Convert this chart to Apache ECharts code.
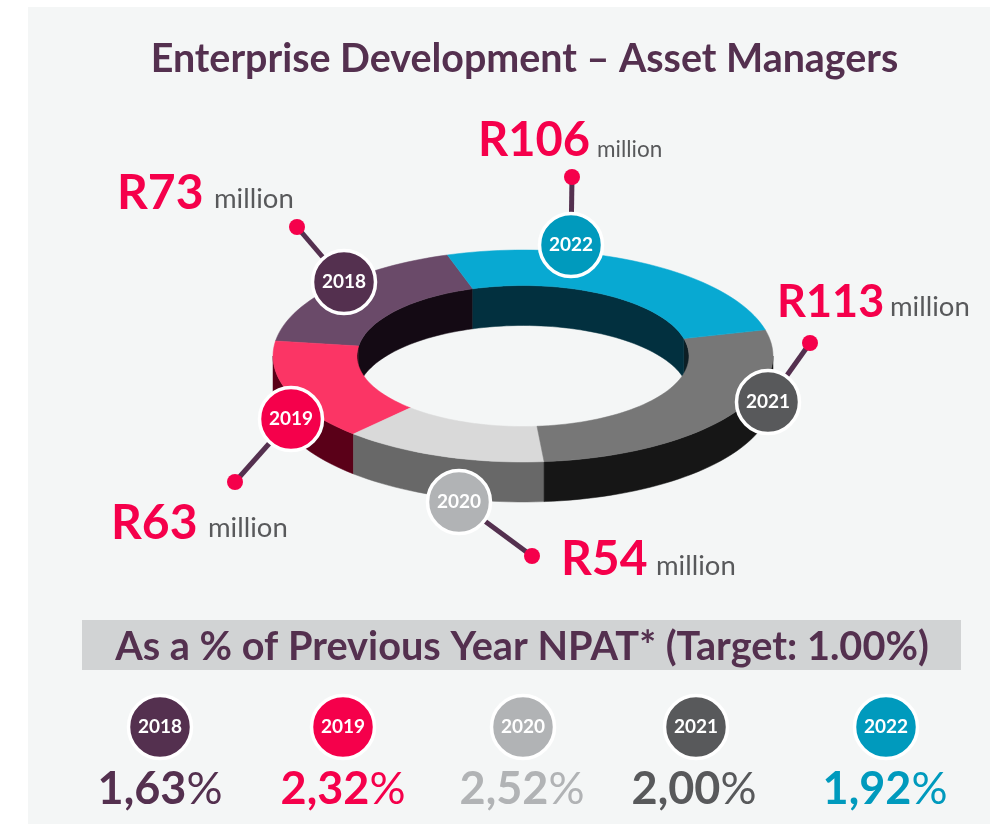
<!DOCTYPE html>
<html><head><meta charset="utf-8">
<style>html,body{margin:0;padding:0;background:#fff}#c{width:990px;height:824px}</style>
<script src="https://cdn.jsdelivr.net/npm/echarts@6/dist/echarts.min.js"></script>
</head><body><div id="c"></div>
<script>
// ---- data ----
const years = ['2018','2019','2020','2021','2022'];
const amounts = [73,63,54,113,106];
const npatPct = ['1,63','2,32','2,52','2,00','1,92'];
// ---- styles per year ----
const badgeColors = ['#54304F','#F5004B','#B1B3B5','#58595B','#009ABD'];
const pctColors   = ['#54304F','#F5004B','#B1B3B5','#58595B','#009ABD'];
const topColors   = ['#6A4A69','#FB3565','#D9D9D9','#777777','#08A9D2'];
const sideColors  = ['#2A1428','#5A0018','#686868','#161616','#04465A'];
const wallColors  = ['#140A14','#2A0010','#444444','#0E1E24','#02303F'];
// ---- layout ----
const ring = {cx:523, cy:356, rx:250, ry:106, irx:166, iry:70.5, depth:40, start:107.6};
const badges = [[344,282],[291,419],[459,502],[768,402],[571,245]];
const dots   = [[297,227],[235,482],[532,556],[810,343],[572,177]];
const amountPos = [[117,209,48],[111,539,48],[561,575,48],[777,316,45],[478,155,47]];
const millionPos = [[214,208,27.5],[208,537,27.5],[656,575,27.5],[890,316,27.5],[597,156,22.5]];
const lowerBadgeX = [160,343,523,696,886];
const pctX = [160,343,522,694,885];

const total = amounts.reduce((a,b)=>a+b,0);
const P = (rx,ry,t,dy)=>{const a=t*Math.PI/180;return [ring.cx+rx*Math.cos(a), ring.cy-ry*Math.sin(a)+(dy||0)];};
function arc(rx,ry,a0,a1,dy){
  const n=Math.max(2,Math.ceil(Math.abs(a1-a0)/2)), o=[];
  for(let i=0;i<=n;i++) o.push(P(rx,ry,a0+(a1-a0)*i/n,dy));
  return o;
}
// visible part of an interval [a0,a1] (increasing) within [lo,hi], modulo 360
function clipAngles(a0,a1,lo,hi){
  const out=[];
  for(const k of [-360,0,360]){
    const s=Math.max(a0,lo+k), e=Math.min(a1,hi+k);
    if(e>s) out.push([s,e]);
  }
  return out;
}
function renderSlice(params,api){
  const i=params.dataIndex;
  let before=0; for(let k=0;k<i;k++) before+=amounts[k];
  const a0=ring.start+before/total*360, a1=a0+api.value(0)/total*360;
  const kids=[];
  // outer side: front half only
  clipAngles(a0,a1,180,360).forEach(([s,e])=>{
    kids.push({type:'polygon',z2:1,shape:{points:arc(ring.rx,ring.ry,s,e,0).concat(arc(ring.rx,ring.ry,e,s,ring.depth))},style:{fill:sideColors[i],stroke:sideColors[i],lineWidth:.5}});
  });
  // inner wall: back half only
  clipAngles(a0,a1,0,180).forEach(([s,e])=>{
    kids.push({type:'polygon',z2:2,shape:{points:arc(ring.irx,ring.iry,s,e,0).concat(arc(ring.irx,ring.iry,e,s,ring.depth))},style:{fill:wallColors[i],stroke:wallColors[i],lineWidth:.5}});
  });
  // top face
  kids.push({type:'polygon',z2:3,shape:{points:arc(ring.rx,ring.ry,a0,a1,0).concat(arc(ring.irx,ring.iry,a1,a0,0))},style:{fill:topColors[i],stroke:topColors[i],lineWidth:.5}});
  return {type:'group',children:kids};
}

const FONT='Lato';
const g=[];
// panel
g.push({type:'rect',z:-10,shape:{x:28,y:7,width:962,height:817},style:{fill:'#F4F6F6'}});
// heading bar
g.push({type:'rect',z:-5,shape:{x:82,y:620,width:879,height:50},style:{fill:'#D1D3D4'}});
g.push({type:'text',z:5,style:{x:522,y:647,text:'As a % of Previous Year NPAT* (Target: 1.00%)',fill:'#54304F',font:'bold 39.7px '+FONT,align:'center',verticalAlign:'middle'}});
// callouts
years.forEach((y,i)=>{
  g.push({type:'line',z:20,shape:{x1:dots[i][0],y1:dots[i][1],x2:badges[i][0],y2:badges[i][1]},style:{stroke:'#54304F',lineWidth:5}});
  g.push({type:'circle',z:21,shape:{cx:dots[i][0],cy:dots[i][1],r:8},style:{fill:'#F5004B'}});
  g.push({type:'circle',z:22,shape:{cx:badges[i][0],cy:badges[i][1],r:31.5},style:{fill:badgeColors[i],stroke:'#fff',lineWidth:3.5}});
  g.push({type:'text',z:23,style:{x:badges[i][0],y:badges[i][1],text:y,fill:'#fff',font:'bold 19px '+FONT,align:'center',verticalAlign:'middle'}});
  g.push({type:'text',z:23,style:{x:amountPos[i][0],y:amountPos[i][1]+9,text:'R'+amounts[i],fill:'#F5004B',font:'bold '+amountPos[i][2]+'px '+FONT,align:'left',verticalAlign:'bottom'}});
  g.push({type:'text',z:23,style:{x:millionPos[i][0],y:millionPos[i][1]+5,text:'million',fill:'#58595B',font:millionPos[i][2]+'px '+FONT,align:'left',verticalAlign:'bottom'}});
  // lower row
  g.push({type:'circle',z:22,shape:{cx:lowerBadgeX[i],cy:727,r:31.5},style:{fill:badgeColors[i],stroke:'#fff',lineWidth:3.5}});
  g.push({type:'text',z:23,style:{x:lowerBadgeX[i],y:727,text:y,fill:'#fff',font:'bold 19px '+FONT,align:'center',verticalAlign:'middle'}});
  g.push({type:'text',z:23,style:{x:pctX[i],y:789,text:'{n|'+npatPct[i]+'}{p|%}',align:'center',verticalAlign:'middle',
    rich:{n:{fill:pctColors[i],font:'bold 45px '+FONT},p:{fill:pctColors[i],font:'45px '+FONT}}}});
});

const chart=echarts.init(document.getElementById('c'),null,{renderer:'canvas'});
chart.setOption({
  animation:false,
  backgroundColor:'#ffffff',
  title:{text:'Enterprise Development – Asset Managers',top:35,
    left:519.5,textAlign:'center',
    textStyle:{fontFamily:FONT,fontWeight:'bold',fontSize:39.4,color:'#54304F'}},
  series:[{type:'custom',coordinateSystem:'none',silent:true,z:2,
    renderItem:renderSlice,
    data:years.map((y,i)=>({name:y,value:[amounts[i]]}))}],
  graphic:{elements:g}
});
</script></body></html>
